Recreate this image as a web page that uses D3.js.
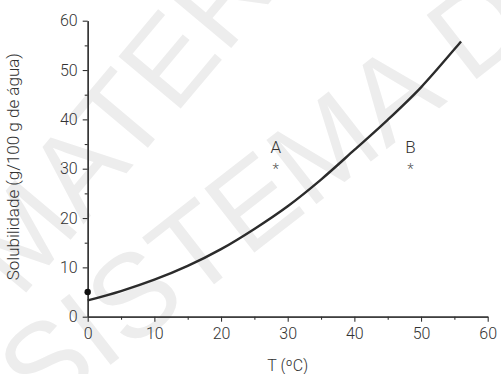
<!DOCTYPE html>
<html>
<head>
<meta charset="utf-8">
<script src="https://cdn.jsdelivr.net/npm/d3@7"></script>
<style>
  html, body { margin: 0; padding: 0; background: #fff; }
  svg { display: block; font-family: Roboto, "Liberation Sans", Arial, sans-serif; font-weight: 300; }
</style>
</head>
<body>
<svg id="chart" width="501" height="374"></svg>
<script>
// Solubility curve (g per 100 g of water) against temperature
const temps   = [0, 5, 10, 15, 20, 25, 30, 35, 40, 45, 50, 55, 56];
const solub   = [3.3, 5.2, 7.5, 10.3, 13.7, 17.8, 22.4, 27.8, 33.8, 39.9, 46.5, 54.2, 55.8];

// Labelled solutions A and B
const markerLabels = ["A", "B"];
const markerT      = [28.2, 48.4];
const markerS      = [30.5, 30.5];

// Single measured point on the vertical axis
const dotT = [0];
const dotS = [5];

const xTicks      = [0, 10, 20, 30, 40, 50, 60];
const xMinorTicks = [5, 15, 25, 35, 45, 55];
const yTicks      = [0, 10, 20, 30, 40, 50, 60];
const yMinorTicks = [5, 15, 25, 35, 45, 55];

const xTitle = "T (ºC)";
const yTitle = "Solubilidade (g/100 g de água)";

const svg = d3.select("#chart");
const ink = "#333";
const font = "Roboto, 'Liberation Sans', Arial, sans-serif";

// Background watermark
const wm = svg.append("g").attr("fill", "#ededed").attr("font-size", 118)
  .attr("font-family", "'Liberation Sans', Arial, sans-serif").attr("font-weight", 400);
wm.append("text").attr("transform", "translate(20,300) rotate(-50)").text("MATERIAL DE");
wm.append("text").attr("transform", "translate(40,420) rotate(-38)").text("SISTEMA DE");

const x = d3.scaleLinear().domain([0, 60]).range([87.7, 487.7]);
const y = d3.scaleLinear().domain([0, 60]).range([316.7, 20.7]);

// Axes
const xAxis = svg.append("g").attr("transform", `translate(0,${y(0)})`)
  .call(d3.axisBottom(x).tickValues(xTicks).tickSize(5).tickPadding(6).tickSizeOuter(0));
const xMinor = svg.append("g").attr("transform", `translate(0,${y(0)})`)
  .call(d3.axisBottom(x).tickValues(xMinorTicks).tickSize(3).tickFormat("").tickSizeOuter(0));
const yAxis = svg.append("g").attr("transform", `translate(${x(0)},0)`)
  .call(d3.axisLeft(y).tickValues(yTicks).tickSize(5).tickPadding(5).tickSizeOuter(0));
const yMinor = svg.append("g").attr("transform", `translate(${x(0)},0)`)
  .call(d3.axisLeft(y).tickValues(yMinorTicks).tickSize(3).tickFormat("").tickSizeOuter(0));

[xAxis, xMinor, yAxis, yMinor].forEach(g => {
  g.select(".domain").attr("stroke", ink).attr("stroke-width", 1.3);
  g.selectAll(".tick line").attr("stroke", ink).attr("stroke-width", 1.1);
  g.selectAll(".tick text").attr("fill", "#333").attr("font-size", 16)
    .attr("font-family", font).attr("font-weight", 300);
});

// Axis titles
svg.append("text").attr("x", x(30)).attr("y", 371).attr("text-anchor", "middle")
  .attr("font-size", 16).attr("fill", "#333").text(xTitle);
svg.append("text").attr("transform", `translate(19,${y(30) - 2}) rotate(-90)`)
  .attr("text-anchor", "middle").attr("font-size", 17).attr("fill", "#333").text(yTitle);

// Solubility curve
const pts = temps.map((t, i) => [t, solub[i]]);
svg.append("path").datum(pts)
  .attr("fill", "none").attr("stroke", "#2b2b2b").attr("stroke-width", 2.4)
  .attr("d", d3.line().x(d => x(d[0])).y(d => y(d[1])).curve(d3.curveCatmullRom));

// Dot on the axis
svg.selectAll("circle.dot").data(dotT.map((t, i) => [t, dotS[i]])).join("circle")
  .attr("class", "dot").attr("cx", d => x(d[0])).attr("cy", d => y(d[1]))
  .attr("r", 3.2).attr("fill", "#111");

// A and B markers
const mk = svg.selectAll("g.marker").data(markerLabels.map((l, i) => ({ l, t: markerT[i], s: markerS[i] })))
  .join("g").attr("class", "marker")
  .attr("transform", d => `translate(${x(d.t)},${y(d.s)})`);
mk.append("text").attr("y", 8).attr("text-anchor", "middle").attr("font-size", 15)
  .attr("fill", "#555").attr("font-weight", 300).text("*");
mk.append("text").attr("y", -13).attr("text-anchor", "middle").attr("font-size", 17)
  .attr("fill", "#333").text(d => d.l);
</script>
</body>
</html>
